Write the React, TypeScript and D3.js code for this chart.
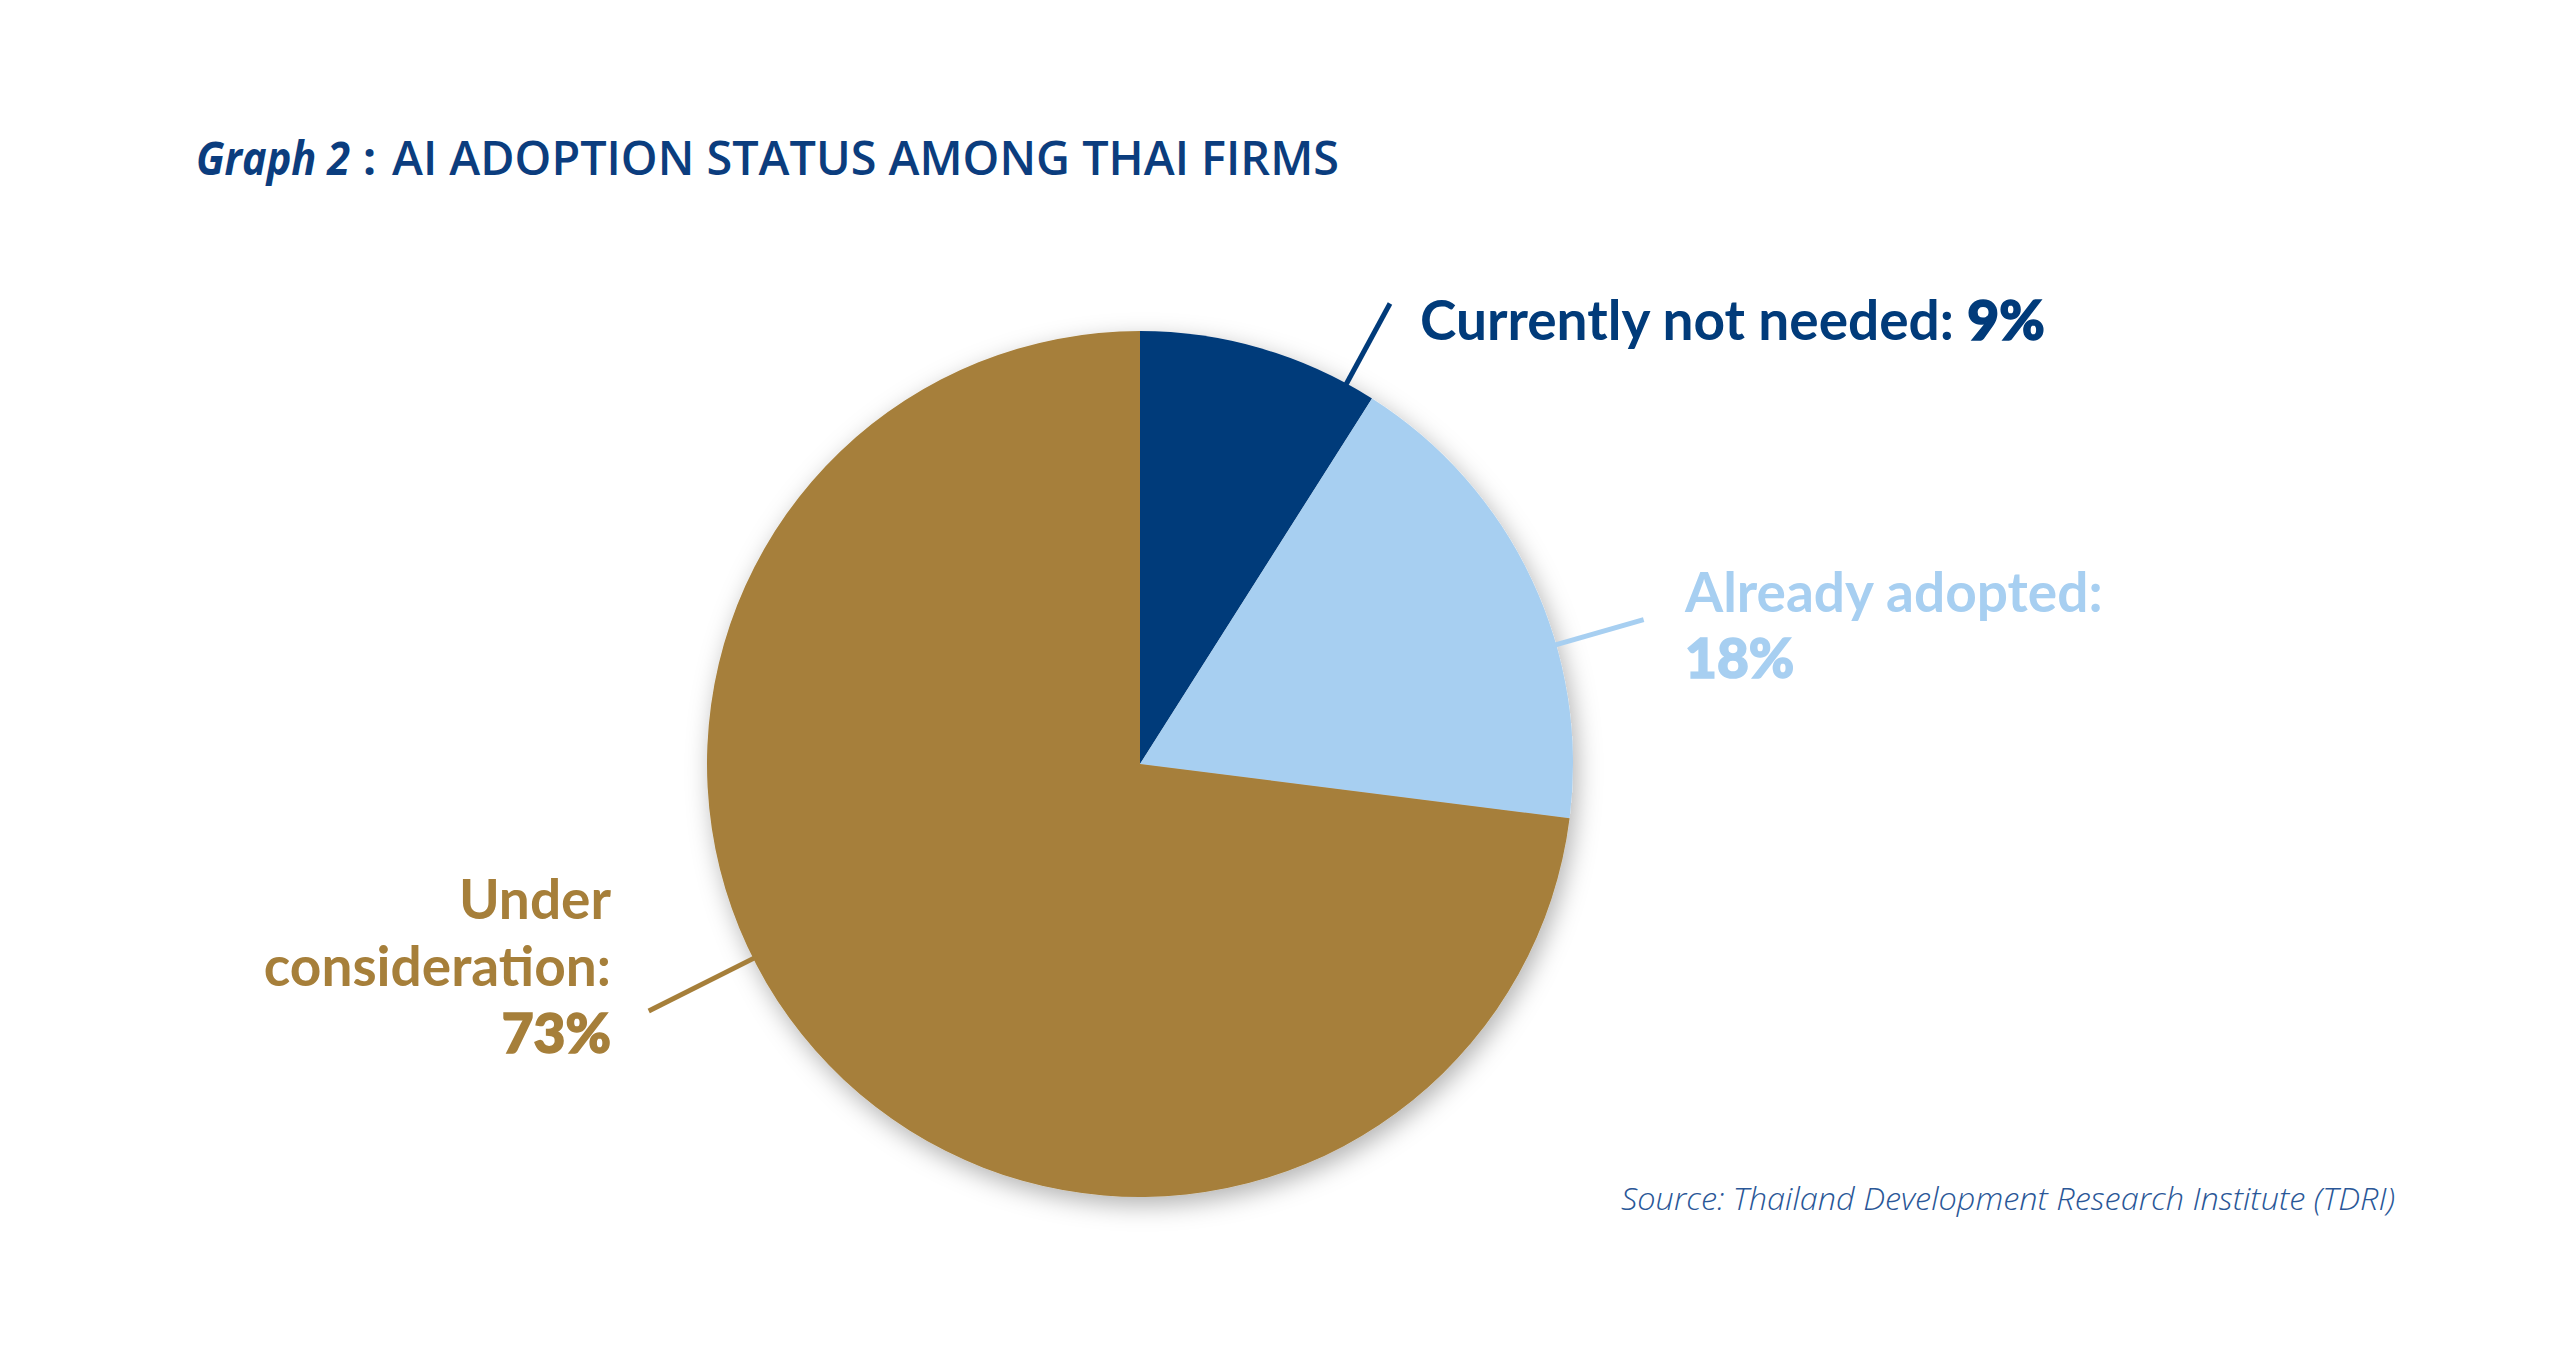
import React from "react";
import * as d3 from "d3";

const categories = ["Currently not needed", "Already adopted", "Under consideration"];
const values = [9, 18, 73];
const colors = ["#013B7A", "#A7CFF1", "#A67F3A"];
const titlePrefix = "Graph 2";
const titleText = "AI ADOPTION STATUS AMONG THAI FIRMS";
const sourceText = "Source: Thailand Development Research Institute (TDRI)";

const W = 2560;
const H = 1365;
const cx = 1140;
const cy = 764;
const R = 433;
const FONT = "'Open Sans', 'Noto Sans', sans-serif";
const LFONT = "Lato, 'Open Sans', sans-serif";
const LSIZE = 55;

// leader line angles (degrees, clockwise from 12 o'clock) and outer radius factor
const leaders = [
  { angle: 28.5, outer: 1.21 },
  { angle: 74, outer: 1.21 },
  { angle: 243.3, outer: 1.27 },
];

export default function App() {
  const pie = d3.pie<number>().sort(null).value((d) => d)(values);
  const arc = d3.arc<d3.PieArcDatum<number>>().innerRadius(0).outerRadius(R);

  const pt = (deg: number, r: number) => {
    const a = (deg * Math.PI) / 180;
    return [cx + r * Math.sin(a), cy - r * Math.cos(a)];
  };

  return (
    <svg
      width={W}
      height={H}
      viewBox={`0 0 ${W} ${H}`}
      style={{ position: "absolute", left: 0, top: 0, background: "#fff" }}
    >
      <defs>
        <filter id="shadow" x="-20%" y="-20%" width="140%" height="140%">
          <feDropShadow dx="4" dy="8" stdDeviation="12" floodColor="#000" floodOpacity="0.3" />
        </filter>
      </defs>
      <rect width={W} height={H} fill="#fff" />

      {/* Title */}
      <text y={175} fill="#0B3D7E" fontFamily={FONT}>
        <tspan x={196} fontSize={46} fontWeight={700} fontStyle="italic" textLength={154} lengthAdjust="spacingAndGlyphs">
          {titlePrefix}
        </tspan>
        <tspan x={363} fontSize={46} fontWeight={700}>:</tspan>
        <tspan x={392} fontSize={47} fontWeight={600} textLength={947} lengthAdjust="spacingAndGlyphs">
          {titleText}
        </tspan>
      </text>

      {/* Pie */}
      <g transform={`translate(${cx},${cy})`} filter="url(#shadow)">
        {pie.map((d, i) => (
          <path key={categories[i]} d={arc(d) || ""} fill={colors[i]} />
        ))}
      </g>

      {/* Leader lines */}
      {leaders.map((l, i) => {
        const [x1, y1] = pt(l.angle, R * 0.99);
        const [x2, y2] = pt(l.angle, R * l.outer);
        return <line key={i} x1={x1} y1={y1} x2={x2} y2={y2} stroke={colors[i]} strokeWidth={5} />;
      })}

      {/* Labels */}
      <text x={1420} y={340} fill={colors[0]} fontFamily={LFONT} fontSize={LSIZE} fontWeight={700}>
        {`${categories[0]}: `}
        <tspan fontWeight={900} stroke={colors[0]} strokeWidth={1.6}>{`${values[0]}%`}</tspan>
      </text>

      <text x={1685} y={612} fill={colors[1]} fontFamily={LFONT} fontSize={LSIZE} fontWeight={700}>
        {`${categories[1]}:`}
      </text>
      <text x={1685} y={678} fill={colors[1]} fontFamily={LFONT} fontSize={LSIZE} fontWeight={900} stroke={colors[1]} strokeWidth={1.6}>
        {`${values[1]}%`}
      </text>

      <text x={611} y={919} fill={colors[2]} fontFamily={LFONT} fontSize={LSIZE} fontWeight={700} textAnchor="end">
        Under
      </text>
      <text x={611} y={986} fill={colors[2]} fontFamily={LFONT} fontSize={LSIZE} fontWeight={700} textAnchor="end">
        consideration:
      </text>
      <text x={611} y={1053} fill={colors[2]} fontFamily={LFONT} fontSize={LSIZE} fontWeight={900} textAnchor="end" stroke={colors[2]} strokeWidth={1.6}>
        {`${values[2]}%`}
      </text>

      {/* Source */}
      <text x={1621} y={1210} fill="#2A5797" fontFamily={FONT} fontSize={32} fontWeight={300} fontStyle="italic" textLength={774} lengthAdjust="spacingAndGlyphs">
        {sourceText}
      </text>
    </svg>
  );
}
